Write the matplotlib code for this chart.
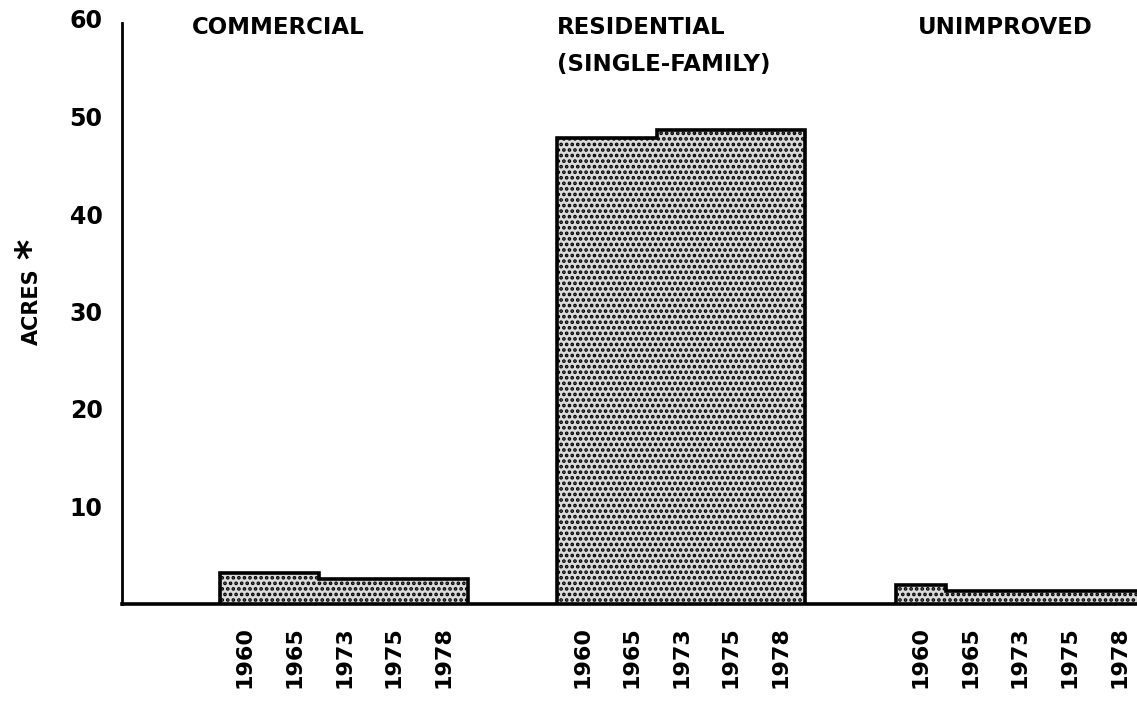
import numpy as np
import matplotlib.pyplot as plt

years = ["1960", "1965", "1973", "1975", "1978"]
groups = ["COMMERCIAL", "RESIDENTIAL\n(SINGLE-FAMILY)", "UNIMPROVED"]
commercial = [3.2, 3.2, 2.6, 2.6, 2.6]
residential = [47.8, 47.8, 48.6, 48.6, 48.6]
unimproved = [2.0, 1.3, 1.3, 1.3, 1.3]
series = [commercial, residential, unimproved]

starts = [0, 6.8, 13.63]
title_shift = [-0.57, 0.0, 0.44]

fig = plt.figure(figsize=(11.37, 7.02), dpi=100)
ax = fig.add_axes([122 / 1137, 1 - 604 / 702, 1 - 122 / 1137, (604 - 19) / 702])
ax.set_xlim(-1.98, 18.49)
ax.set_ylim(0, 60)

plt.rcParams['hatch.linewidth'] = 1.8
font = dict(family="DejaVu Sans", weight="bold")

ticks = []
labels = []
for start, vals, name, dx in zip(starts, series, groups, title_shift):
    edges = start + np.arange(len(vals) + 1)
    ax.stairs(vals, edges, baseline=0, fill=True, facecolor="#dadada",
              edgecolor="black", hatch="...", lw=0)
    ax.stairs(vals, edges, baseline=0, fill=False, color="black", lw=2.6)
    ticks += list(start + np.arange(len(vals)) + 0.5)
    labels += years
    ax.text(start + dx, 60.3, name, ha="left", va="top", fontsize=16.5,
            linespacing=1.75, **font)

ax.set_xticks(ticks)
ax.set_xticklabels(labels, rotation=90, fontsize=16, **font)
ax.set_yticks([10, 20, 30, 40, 50, 60])
ax.set_yticklabels(["10", "20", "30", "40", "50", "60"], fontsize=17, **font)
ax.tick_params(axis="y", length=0, pad=14)
ax.tick_params(axis="x", length=0, pad=16)

fig.text(32 / 1137, 1 - 307 / 702, "ACRES", rotation=90, ha="center",
         va="center", fontsize=15, **font)
fig.text(32 / 1137, 1 - 249 / 702, "*", rotation=90, ha="center",
         va="center", fontsize=28, **font)

for s in ["top", "right"]:
    ax.spines[s].set_visible(False)
ax.spines["left"].set_linewidth(2)
ax.spines["bottom"].set_linewidth(2.6)
ax.spines["left"].set_bounds(0, 59.6)

fig.savefig("out.png", dpi=100)
